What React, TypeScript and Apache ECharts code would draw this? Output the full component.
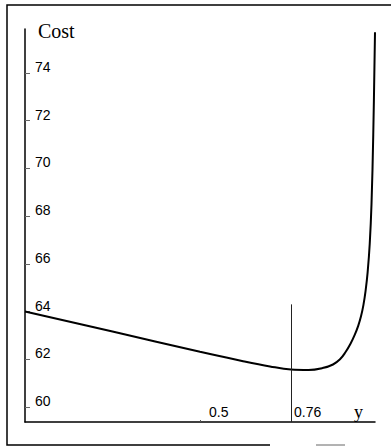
import React, { useEffect, useRef } from "react";
import * as echarts from "echarts";

// Data
const costX = [0, 0.25, 0.5, 0.62, 0.7, 0.76, 0.81, 0.85, 0.88, 0.9, 0.915, 0.93, 0.942, 0.952, 0.96, 0.967, 0.973, 0.979, 0.985, 0.99, 0.995, 1.0];
const costY = [64.0, 63.16, 62.31, 61.93, 61.7, 61.57, 61.55, 61.63, 61.78, 62.0, 62.28, 62.65, 63.02, 63.4, 63.8, 64.28, 64.85, 65.65, 66.85, 68.5, 71.4, 75.7];
const yTicks = [60, 62, 64, 66, 68, 70, 72, 74];
const xTicks = [0.5, 0.76];
const optimumX = 0.76;
const optimumLineTop = 64.3;
const yMin = 59.37;
const yMax = 75.84;
const xMin = 0;
const xMax = 1.0;

export default function App() {
  const ref = useRef<HTMLDivElement>(null);
  useEffect(() => {
    if (!ref.current) return;
    const chart = echarts.init(ref.current, null, { renderer: "svg" });
    const data = costX.map((x, i) => [x, costY[i]]);
    chart.setOption({
      animation: false,
      backgroundColor: "#ffffff",
      grid: { left: 25, right: 16, top: 29, bottom: 25, containLabel: false },
      xAxis: {
        type: "value",
        min: xMin,
        max: xMax,
        axisLine: { show: true, lineStyle: { color: "#000", width: 1.5 } },
        splitLine: { show: false },
        axisTick: { show: true, inside: true, length: 2, customValues: xTicks, lineStyle: { color: "#555" } },
        axisLabel: {
          show: true,
          inside: true,
          customValues: xTicks,
          formatter: (v: number) => (v === 0.5 ? "{far|0.5}" : "{near|" + String(v) + "}"),
          rich: {
            far: { padding: [0, 0, 0, 9], fontFamily: "Liberation Sans", fontSize: 14, color: "#000" },
            near: { padding: [0, 0, 0, 3], fontFamily: "Liberation Sans", fontSize: 14, color: "#000" },
          },
          align: "left",
          verticalAlign: "bottom",
          margin: 3,
          fontFamily: "Liberation Sans",
          fontSize: 14,
          color: "#000",
        },
      },
      yAxis: {
        type: "value",
        min: yMin,
        max: yMax,
        axisLine: { show: true, lineStyle: { color: "#000", width: 1.5 } },
        splitLine: { show: false },
        axisTick: { show: true, inside: true, length: 5, customValues: yTicks, lineStyle: { color: "#666" } },
        axisLabel: {
          show: true,
          inside: true,
          customValues: yTicks,
          formatter: (v: number) => String(v),
          align: "left",
          verticalAlign: "bottom",
          lineHeight: 12,
          margin: 10,
          fontFamily: "Liberation Sans",
          fontSize: 14,
          color: "#000",
        },
      },
      series: [
        {
          type: "line",
          data,
          smooth: 0.4,
          showSymbol: false,
          clip: false,
          lineStyle: { color: "#000", width: 2 },
          markLine: {
            silent: true,
            symbol: ["none", "none"],
            label: { show: false },
            lineStyle: { color: "#222", width: 1, type: "solid" },
            data: [[{ coord: [optimumX, yMin] }, { coord: [optimumX, optimumLineTop] }]],
          },
        },
      ],
      graphic: [
        {
          type: "polyline",
          shape: { points: [[391, 5], [7, 5], [7, 445], [270, 445]] },
          style: { stroke: "#000", lineWidth: 1.5, fill: "none" },
        },
        {
          type: "line",
          shape: { x1: 316, y1: 445, x2: 345, y2: 445 },
          style: { stroke: "#666", lineWidth: 1 },
        },
        {
          type: "text",
          left: 38,
          top: 21,
          style: { text: "Cost", font: "20px 'Liberation Serif'", fill: "#000" },
        },
        {
          type: "text",
          x: 354,
          y: 421,
          style: { text: "y", font: "18px 'Liberation Serif'", fill: "#000", verticalAlign: "bottom" },
        },
      ],
    });
    return () => chart.dispose();
  }, []);
  return (
    <div style={{ position: "absolute", left: 0, top: 0, width: 391, height: 447, background: "#fff" }}>
      <div ref={ref} style={{ width: 391, height: 447 }} />
    </div>
  );
}
